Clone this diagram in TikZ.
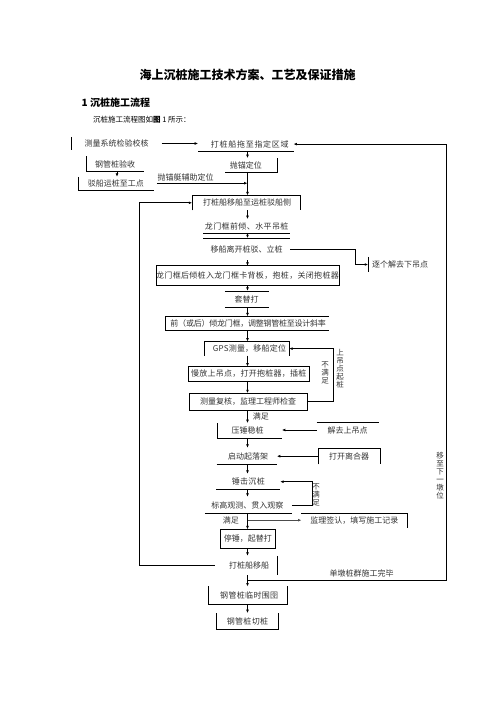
\documentclass[tikz,border=0pt]{standalone}
\usepackage{fontspec}
\setmainfont{Noto Sans CJK SC}
\usetikzlibrary{arrows.meta,calc}
\newcommand\shx[2]{\kern#1pt\relax#2\kern-#1pt\relax}
\newcommand\lsp[1]{\addfontfeature{LetterSpace=#1}}
\tikzset{
  stp/.style={inner sep=0pt, font=\fontsize{8}{9}\selectfont, text=black!80},
  bx/.style 2 args={minimum width=#1pt, minimum height=#2pt},
  ln/.style={line width=0.7pt, black},
  arr/.style={ln, -{Latex[length=3.4pt,width=2.8pt]}},
  vtx/.style={inner sep=0pt, font=\fontsize{7.5}{8}\selectfont, text=black!80, align=center},
}
\begin{document}
\begin{tikzpicture}[x=1pt,y=-1pt]
\useasboundingbox (0,0) rectangle (496,702);
\coordinate (ax) at (247.5,0);
% headings
\node[font=\bfseries\fontsize{12}{14}\selectfont, inner sep=0pt] (title) at (247.5,75) {海上沉桩施工技术方案、工艺及保证措施};
\node[anchor=west, font=\bfseries\fontsize{10}{12}\selectfont, inner sep=0pt] (h1) at (81.5,103) {1 沉桩施工流程};
\node[anchor=west, font=\fontsize{7.5}{10}\selectfont, inner sep=0pt] (intro) at (93,120) {沉桩施工流程图如\textbf{图} 1 所示：};
% steps
\node[stp,bx={89.6}{13}] (m1) at (116.5,143.5) {测量系统检验校核};
\draw[ln] (m1.north west) -- (m1.south west);
\node[stp,bx={95}{13.2}] (d1) at (245.8,144.1) {\shx{4}{\lsp{9}打桩船拖至指定区域}};
\draw[ln] (d1.south west) -- (d1.south east);
\node[stp,bx={56.6}{15}] (g1) at (115,164) {钢管桩验收};
\draw[ln] (g1.north west) -- (g1.south west) -- (g1.south east);
\node[stp,bx={75}{13}] (b1) at (115.8,183.5) {驳船运桩至工点};
\draw[ln] (b1.north west) -- (b1.south west) -- (b1.south east);
\node[stp,bx={66}{11}] (p1) at (190,177.5) {\shx{-4.5}{抛锚艇辅助定位}};
\node[stp,bx={51.7}{13.4}] (a1) at (250.8,165) {\shx{-5}{抛锚定位}};
\draw[ln] (a1.north east) -- (a1.south east) -- (a1.south west);
\node[stp,bx={107.7}{14.5}] (s1) at (246.2,202.8) {\shx{1}{打桩船移船至运桩驳船侧}};
\draw[ln] (s1.south west) -- (s1.north west) -- (s1.north east) -- (s1.south east);
\node[stp,bx={86.7}{13.4}] (s2) at (246.7,226) {\lsp{5}龙门框前倾、水平吊桩};
\draw[ln] (s2.south west) -- (s2.south east);
\node[stp,bx={86.7}{21.7}] (s3) at (246.7,249.2) {移船离开桩驳、立桩};
\draw[ln] (s3.north west) -- (s3.north east);
\node[stp,bx={63.7}{15}] (r1) at (400.2,264.5) {逐个解去下吊点};
\draw[ln] (r1.north west) -- (r1.south west);
\node[stp,bx={181.6}{19}] (s4) at (247.5,275.5) {\lsp{4}龙门框后倾桩入龙门框卡背板，抱桩，关闭抱桩器};
\draw[ln] (s4.north west) rectangle (s4.south east);
\node[stp,bx={43.3}{16.3}] (s5) at (246.7,299.2) {套替打};
\draw[ln] (s5.north west) -- (s5.north east) (s5.south west) -- (s5.south east);
\node[stp,bx={163.3}{14}] (s6) at (246.7,323.5) {\shx{1.5}{\lsp{-3}前（或后）倾龙门框，调整钢管桩至设计斜率}};
\draw[ln] (s6.north east) -- (s6.north west) -- (s6.south west) -- (s6.south east);
\node[stp,bx={84}{13.8}] (s7) at (247,348.6) {\shx{2.5}{\lsp{3}GPS测量，移船定位}};
\draw[ln] (s7.south west) -- (s7.north west) -- (s7.north east) -- (s7.south east);
\node[stp,bx={121}{14}] (s8) at (248.8,373.7) {\lsp{3}慢放上吊点，打开抱桩器，插桩};
\draw[ln] (s8.north west) rectangle (s8.south east);
\node[stp,bx={117.4}{16.7}] (s9) at (248,401.7) {测量复核，监理工程师检查};
\draw[ln] (s9.north west) rectangle (s9.south east);
\node[vtx] (n1) at (325,373) {不\\满\\足};
\node[vtx] (n2) at (340,369) {上\\吊\\点\\起\\桩};
\node[stp] (ok1) at (260.8,416) {满足};
\node[stp,bx={64.4}{15}] (s10) at (249.5,430.8) {\shx{-2}{压锤稳桩}};
\draw[ln] (s10.north west) -- (s10.south west) -- (s10.south east);
\node[stp,bx={61.6}{14.6}] (r2) at (347.5,430) {解去上吊点};
\draw[ln] (r2.north west) -- (r2.north east);
\node[stp,bx={60}{16}] (s11) at (246.7,456) {\shx{1.5}{启动起落架}};
\draw[ln] (s11.south west) -- (s11.south east);
\node[stp,bx={61.7}{15.7}] (r3) at (349.2,456.2) {打开离合器};
\draw[ln] (r3.south west) -- (r3.north west) -- (r3.north east) -- (r3.south east);
\node[stp,bx={63.3}{15.3}] (s12) at (248.3,481.7) {\lsp{4}锤击沉桩};
\draw[ln] (s12.south west) -- (s12.south east);
\node[stp,bx={86.7}{16}] (s13) at (248.3,505) {\shx{-1}{标高观测、贯入观察}};
\draw[ln] (s13.south west) -- (s13.south east);
\node[vtx] (n3) at (316,495) {不\\满\\足};
\node[stp,bx={105.3}{14.3}] (r4) at (354.3,520.2) {监理签认，填写施工记录};
\draw[ln] (r4.north west) -- (r4.north east) -- (r4.south east);
\node[stp] (ok2) at (230.8,520) {满足};
\node[stp,bx={55}{18.5}] (s14) at (247.8,538.8) {停锤，起替打};
\draw[ln] (s14.north west) rectangle (s14.south east);
\node[stp,bx={61.7}{19}] (s15) at (245.8,565.5) {\shx{3.4}{打桩船移船}};
\draw[ln] (s15.north east) -- (s15.south east);
\node[stp] (fin) at (361.7,573.3) {单墩桩群施工完毕};
\node[vtx] (n4) at (440,476) {移\\至\\下\\一\\墩\\位};
\node[stp,bx={78.4}{17.3}] (s16) at (247.5,595.3) {\shx{1.7}{\lsp{4}钢管桩临时围囹}};
\draw[ln] (s16.north west) -- (s16.south west) -- (s16.south east) -- (s16.north east);
\node[stp,bx={61.6}{16}] (s17) at (247.5,621.3) {\lsp{4}钢管桩切桩};
\draw[ln] (s17.north west) -- (s17.south west) -- (s17.south east) -- (s17.north east);
% connectors
\draw[arr] (m1.east) -- (m1.east -| d1.west);
\draw[arr] (d1.south -| ax) -- (a1.north -| ax);
\draw[arr] (a1.south -| ax) -- (s1.north -| ax);
\draw[arr] (p1.south west) -- (p1.south west -| ax);
\draw[arr] ($(g1.south)+(2,0)$) -- ($(g1.south |- b1.north)+(2,0)$);
\foreach \a/\b in {s1/s2,s2/s3,s3/s4,s4/s5,s5/s6,s6/s7,s7/s8,s8/s9,s9/s10,s10/s11,s11/s12,s12/s13,s13/s14,s14/s15,s15/s16,s16/s17}
  \draw[arr] (\a.south -| ax) -- (\b.north -| ax);
\draw[arr] (s3.east) -- ++(65,0) |- (r1.west);
\draw[arr] (s9.east) -- ++(26.6,0) |- (s7.east);
\draw[arr] (r2.west) -- (r2.west -| s10.east);
\draw[arr] (r3.west) -- (r3.west -| s11.east);
\draw[arr] (s13.east) -- ++(20,0) |- (s12.east);
\draw[arr, black!70, line width=0.9pt] (r4.west -| ax) -- (r4.west);
\draw[arr] (s15.west) -- ++(-75.7,0) |- (s1.west);
\coordinate (jn) at (247.5,580);
\coordinate (cr) at (446.7,580);
\draw[arr] (jn) -- (cr) |- (d1.east);
\end{tikzpicture}
\end{document}
